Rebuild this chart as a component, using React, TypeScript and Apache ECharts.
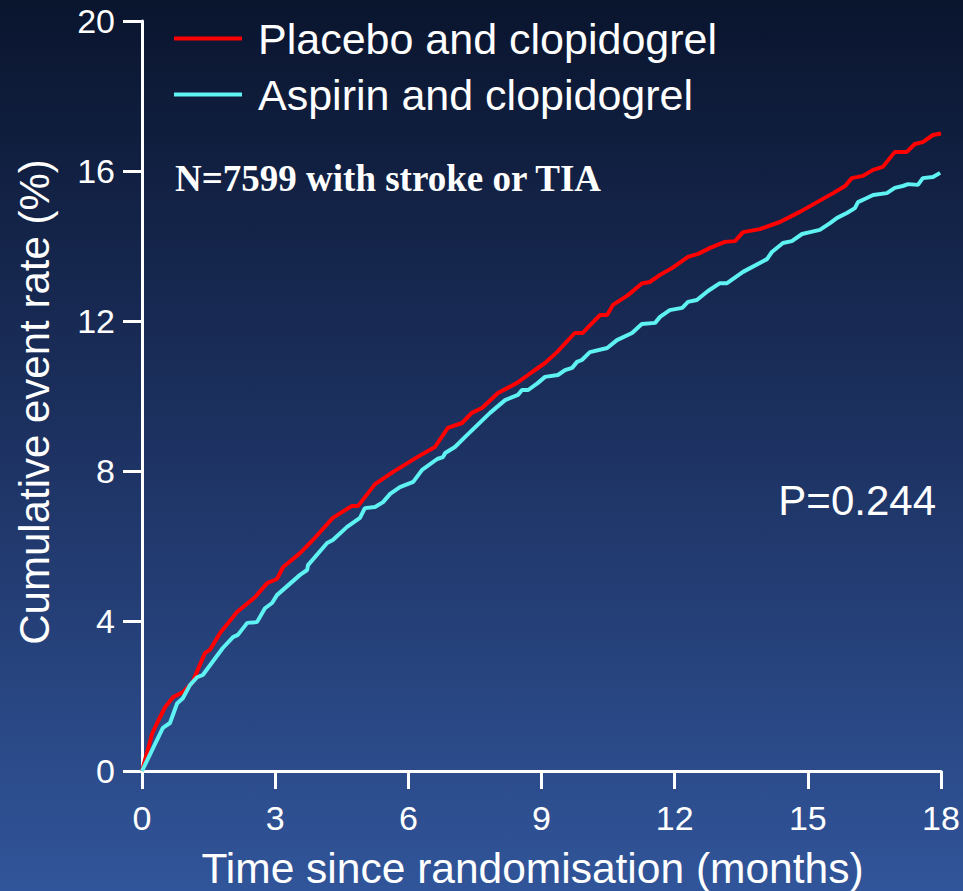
import React, { useEffect, useRef } from "react";
import * as echarts from "echarts";

// Kaplan–Meier style cumulative event rate (%) vs. time (months)
const placeboTime = [0, 0.23, 0.34, 0.52, 0.7, 0.92, 1.13, 1.42, 1.53, 1.76, 2.14, 2.55, 2.82, 3.04, 3.18, 3.56, 3.85, 4.3, 4.73, 4.87, 5.25, 5.65, 6.2, 6.6, 6.89, 7.21, 7.43, 7.66, 8.02, 8.45, 8.79, 9.08, 9.35, 9.75, 9.93, 10.03, 10.32, 10.48, 10.61, 10.95, 11.26, 11.44, 11.67, 11.94, 12.3, 12.53, 12.8, 13.13, 13.36, 13.54, 13.92, 14.37, 14.82, 15.21, 15.57, 15.84, 15.99, 16.24, 16.47, 16.69, 16.96, 17.23, 17.41, 17.59, 17.82, 18.0];
const placeboRate = [0, 1.0, 1.28, 1.7, 1.97, 2.1, 2.35, 3.15, 3.23, 3.68, 4.24, 4.64, 5.01, 5.12, 5.44, 5.81, 6.16, 6.75, 7.07, 7.07, 7.65, 7.97, 8.37, 8.64, 9.15, 9.28, 9.55, 9.68, 10.08, 10.35, 10.64, 10.88, 11.17, 11.68, 11.68, 11.81, 12.16, 12.16, 12.43, 12.69, 13.0, 13.04, 13.23, 13.41, 13.71, 13.79, 13.95, 14.11, 14.13, 14.37, 14.45, 14.64, 14.91, 15.17, 15.41, 15.6, 15.81, 15.87, 16.03, 16.11, 16.51, 16.51, 16.72, 16.77, 16.96, 17.0];

const aspirinTime = [0, 0.47, 0.63, 0.79, 0.92, 1.08, 1.24, 1.37, 1.82, 2.05, 2.16, 2.37, 2.59, 2.77, 2.93, 3.04, 3.56, 3.72, 3.74, 4.17, 4.3, 4.62, 4.91, 5.02, 5.25, 5.43, 5.59, 5.81, 6.11, 6.31, 6.65, 6.78, 6.83, 7.05, 7.28, 7.84, 8.18, 8.47, 8.56, 8.7, 8.92, 9.08, 9.37, 9.53, 9.69, 9.8, 9.91, 10.09, 10.48, 10.7, 11.04, 11.26, 11.56, 11.67, 11.89, 12.17, 12.3, 12.5, 12.75, 13.02, 13.18, 13.54, 14.08, 14.19, 14.44, 14.64, 14.87, 15.05, 15.27, 15.5, 15.66, 15.88, 16.06, 16.13, 16.33, 16.47, 16.78, 16.96, 17.14, 17.26, 17.48, 17.59, 17.82, 17.98];
const aspirinRate = [0, 1.15, 1.28, 1.8, 1.94, 2.29, 2.5, 2.56, 3.28, 3.57, 3.63, 3.95, 3.97, 4.34, 4.48, 4.69, 5.23, 5.36, 5.49, 6.08, 6.16, 6.51, 6.75, 7.01, 7.04, 7.17, 7.39, 7.57, 7.71, 8.03, 8.32, 8.37, 8.48, 8.64, 8.91, 9.55, 9.89, 10.03, 10.16, 10.16, 10.35, 10.51, 10.56, 10.69, 10.75, 10.91, 10.96, 11.17, 11.28, 11.49, 11.68, 11.92, 11.95, 12.11, 12.29, 12.35, 12.51, 12.56, 12.8, 13.01, 13.01, 13.31, 13.65, 13.84, 14.08, 14.13, 14.32, 14.37, 14.43, 14.61, 14.75, 14.88, 15.01, 15.17, 15.28, 15.36, 15.41, 15.55, 15.6, 15.65, 15.63, 15.81, 15.84, 15.95];

const seriesNames = ["Placebo and clopidogrel", "Aspirin and clopidogrel"];
const xTitle = "Time since randomisation (months)";
const yTitle = "Cumulative event rate (%)";
const noteText = "N=7599 with stroke or TIA";
const pText = "P=0.244";

const zip = (a: number[], b: number[]) => a.map((t, i) => [t, b[i]]);

export default function App() {
  const ref = useRef<HTMLDivElement>(null);
  useEffect(() => {
    if (!ref.current) return;
    const chart = echarts.init(ref.current, undefined, { renderer: "svg" });
    const font = "'Liberation Sans', Arial, sans-serif";
    chart.setOption({
      animation: false,
      backgroundColor: {
        type: "linear",
        x: 0,
        y: 0,
        x2: 0,
        y2: 1,
        colorStops: [
          { offset: 0, color: "#0a152e" },
          { offset: 0.5, color: "#1d3262" },
          { offset: 1, color: "#31559a" },
        ],
      },
      textStyle: { fontFamily: font },
      grid: { left: 142, right: 22, top: 21, bottom: 120, containLabel: false, outerBoundsMode: "none" },
      legend: {
        orient: "vertical",
        left: 174,
        top: 17,
        padding: 0,
        itemWidth: 68,
        itemHeight: 4,
        itemGap: 13,
        icon: "rect",
        textStyle: { color: "#ffffff", fontSize: 43, fontFamily: font, lineHeight: 43, padding: [0, 0, 0, 11] },
        data: seriesNames,
      },
      xAxis: {
        type: "value",
        min: 0,
        max: 18,
        interval: 3,
        axisLine: { show: true, lineStyle: { color: "#ffffff", width: 3 } },
        axisTick: { show: true, length: 18, lineStyle: { color: "#ffffff", width: 3 } },
        axisLabel: { color: "#ffffff", fontSize: 34, margin: 30, fontFamily: font },
        splitLine: { show: false },
        name: xTitle,
        nameLocation: "middle",
        nameGap: 76,
        nameTextStyle: { color: "#ffffff", fontSize: 42.5, fontFamily: font, padding: [0, 18, 0, 0] },
      },
      yAxis: {
        type: "value",
        min: 0,
        max: 20,
        interval: 4,
        axisLine: { show: true, lineStyle: { color: "#ffffff", width: 3 } },
        axisTick: { show: true, length: 19, lineStyle: { color: "#ffffff", width: 3 } },
        axisLabel: { color: "#ffffff", fontSize: 34, margin: 27, fontFamily: font },
        splitLine: { show: false },
        name: yTitle,
        nameLocation: "middle",
        nameRotate: 90,
        nameGap: 87,
        nameTextStyle: { color: "#ffffff", fontSize: 42, fontFamily: font, padding: [0, 12, 0, 0] },
      },
      series: [
        {
          name: seriesNames[0],
          type: "line",
          data: zip(placeboTime, placeboRate),
          showSymbol: false,
          symbol: "none",
          color: "#ff0000",
          lineStyle: { color: "#ff0000", width: 4 },
        },
        {
          name: seriesNames[1],
          type: "line",
          data: zip(aspirinTime, aspirinRate),
          showSymbol: false,
          symbol: "none",
          color: "#5ff2f2",
          lineStyle: { color: "#5ff2f2", width: 4 },
        },
      ],
      graphic: [
        {
          type: "text",
          left: 175,
          top: 160,
          style: {
            text: noteText,
            fill: "#ffffff",
            fontSize: 37,
            fontWeight: "bold",
            fontFamily: "'Liberation Serif', 'Times New Roman', serif",
          },
        },
        {
          type: "text",
          right: 27,
          top: 479,
          style: {
            text: pText,
            fill: "#ffffff",
            fontSize: 42,
            fontFamily: font,
          },
        },
      ],
    });
    return () => chart.dispose();
  }, []);
  return (
    <div
      ref={ref}
      style={{ position: "absolute", left: 0, top: 0, width: 963, height: 891 }}
    />
  );
}
